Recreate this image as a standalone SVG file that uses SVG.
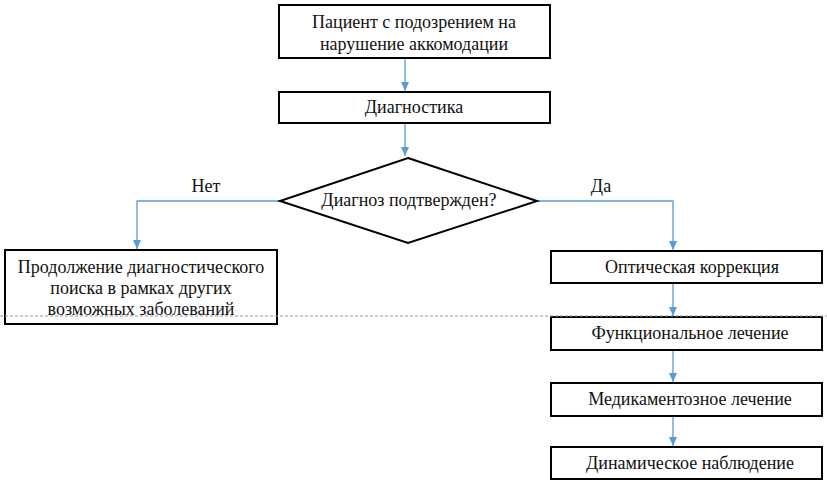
<svg xmlns="http://www.w3.org/2000/svg" width="827" height="484" viewBox="0 0 827 484">
<defs>
<marker id="ah" markerWidth="10" markerHeight="10" refX="9" refY="5" orient="auto" markerUnits="userSpaceOnUse">
<path d="M0,1 L9,5 L0,9 Z" fill="#5B9BD5"/>
</marker>
<style>
.box{fill:#fff;stroke:#000;stroke-width:2}
.t{font-family:'Liberation Serif','Times New Roman',serif;font-size:18px;fill:#111;text-anchor:middle}
.c{fill:none;stroke:#5B9BD5;stroke-width:1.3;marker-end:url(#ah)}
</style>
</defs>
<rect width="827" height="484" fill="#fff"/>
<g id="connectors">
<path class="c" d="M405,59 V91"/>
<path class="c" d="M405,124 V156"/>
<path class="c" d="M280,201 H137 V249"/>
<path class="c" d="M537,201 H673 V250"/>
<path class="c" d="M673,284 V316"/>
<path class="c" d="M673,351 V382"/>
<path class="c" d="M673,417 V446"/>
</g>
<g id="n1"><rect class="box" x="279" y="5" width="271" height="53"/>
<text class="t" x="414" y="28">Пациент с подозрением на</text>
<text class="t" x="414" y="50">нарушение аккомодации</text></g>
<g id="n2"><rect class="box" x="279" y="92" width="271" height="31"/>
<text class="t" x="414" y="113">Диагностика</text></g>
<g id="n3"><polygon points="408,158 537,201 408,243 280,201" fill="#fff" stroke="#000" stroke-width="2"/>
<text class="t" x="409" y="206">Диагноз подтвержден?</text></g>
<g id="n4"><rect class="box" x="5" y="250" width="272" height="74"/>
<text class="t" x="141" y="273">Продолжение диагностического</text>
<text class="t" x="141" y="294">поиска в рамках других</text>
<text class="t" x="141" y="315">возможных заболеваний</text></g>
<g id="n5"><rect class="box" x="551" y="251" width="271" height="32"/>
<text class="t" x="692" y="273">Оптическая коррекция</text></g>
<g id="n6"><rect class="box" x="551" y="317" width="271" height="33"/>
<text class="t" x="690" y="339">Функциональное лечение</text></g>
<g id="n7"><rect class="box" x="551" y="383" width="271" height="33"/>
<text class="t" x="690" y="405">Медикаментозное лечение</text></g>
<g id="n8"><rect class="box" x="551" y="447" width="271" height="32"/>
<text class="t" x="690" y="469">Динамическое наблюдение</text></g>
<text class="t" x="206" y="192">Нет</text>
<text class="t" x="601" y="192">Да</text>
<line x1="0" y1="316" x2="827" y2="316" stroke="#999" stroke-width="1" stroke-dasharray="3,2"/>
</svg>
